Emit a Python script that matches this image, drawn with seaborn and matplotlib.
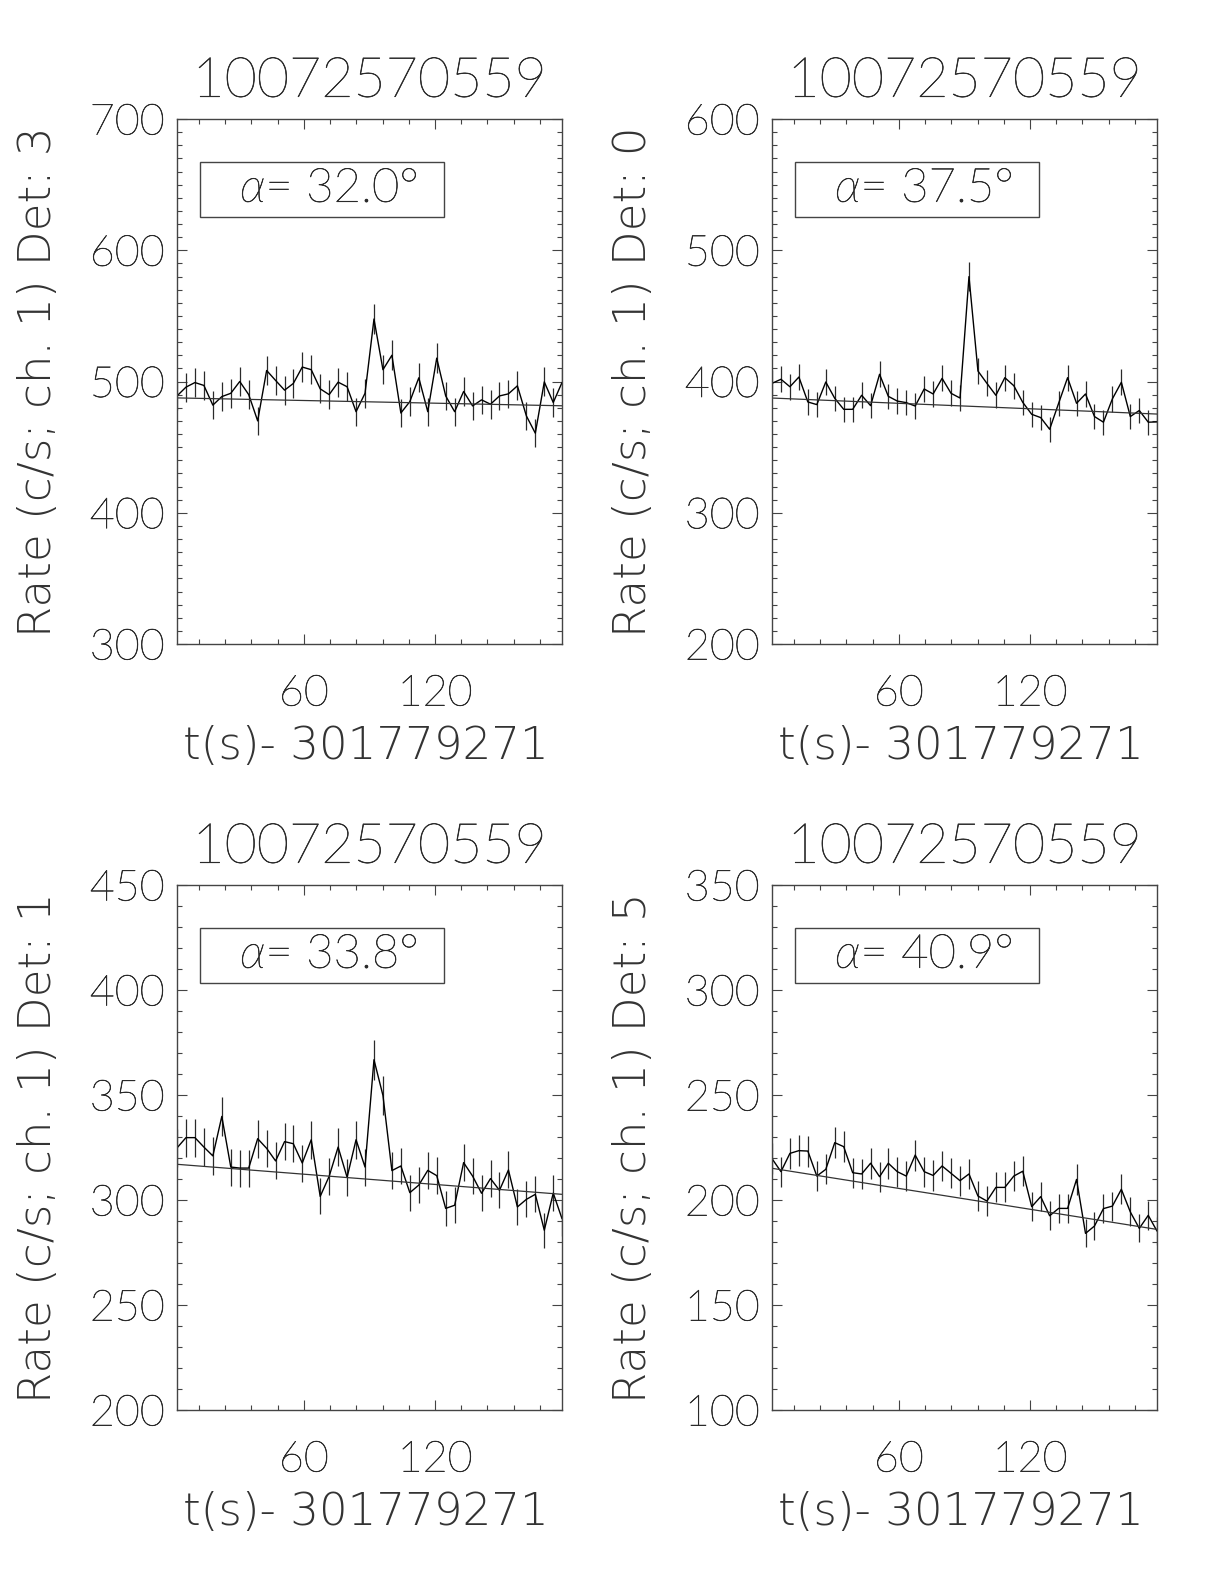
import numpy as np
import pandas as pd
import matplotlib
matplotlib.use("Agg")
import matplotlib.pyplot as plt
import matplotlib.patheffects as pe
import seaborn as sns
from matplotlib import font_manager as fm
from matplotlib.ticker import MultipleLocator, FixedLocator
from matplotlib.patches import Rectangle

sns.set_theme(style="ticks")
plt.rcParams["font.family"] = ["Lato", "DejaVu Sans"]
plt.rcParams["mathtext.fontset"] = "custom"
plt.rcParams["mathtext.it"] = "Lato:italic:weight=200"
plt.rcParams["mathtext.rm"] = "Lato:weight=200"
plt.rcParams["mathtext.fallback"] = "cm"

# ---- data ----
time_s = [2.0, 6.1, 10.2, 14.3, 18.4, 22.5, 26.6, 30.7, 34.8, 38.9, 43.0,
          47.1, 51.2, 55.2, 59.3, 63.4, 67.5, 71.6, 75.7, 79.8, 83.9, 88.0,
          92.1, 96.2, 100.3, 104.4, 108.5, 112.6, 116.7, 120.8, 124.9, 129.0,
          133.1, 137.2, 141.3, 145.4, 149.5, 153.6, 157.7, 161.8, 165.9, 170.0,
          174.1, 178.1]

rate_det3 = [489.0, 495.7, 499.2, 497.0, 482.0, 488.5, 491.0, 500.0, 490.0, 470.0,
             508.4, 500.8, 493.4, 498.5, 511.0, 509.0, 494.4, 490.0, 499.5, 496.0,
             477.0, 491.0, 547.6, 509.0, 520.0, 476.0, 484.7, 502.8, 477.0, 517.8,
             489.0, 477.0, 492.4, 481.4, 486.0, 482.7, 489.0, 490.6, 496.7, 473.8,
             460.6, 499.7, 484.0, 499.2]
err_det3 = [10.9, 11.0, 11.0, 11.0, 10.8, 10.9, 10.9, 11.0, 10.9, 10.7, 11.1, 11.1,
            11.0, 11.0, 11.2, 11.1, 11.0, 10.9, 11.0, 11.0, 10.8, 10.9, 11.6, 11.1,
            11.3, 10.8, 10.9, 11.1, 10.8, 11.2, 10.9, 10.8, 11.0, 10.8, 10.9, 10.9,
            10.9, 10.9, 11.0, 10.8, 10.6, 11.0, 10.9, 11.0]

rate_det0 = [398.6, 401.7, 396.0, 403.4, 384.4, 382.4, 399.6, 387.2, 378.8, 378.8,
             389.5, 381.6, 405.5, 388.7, 385.1, 383.9, 381.3, 394.3, 390.5, 402.4,
             391.0, 387.4, 479.9, 408.0, 398.6, 389.5, 402.9, 396.8, 384.1, 375.0,
             372.5, 363.6, 383.4, 402.9, 383.4, 390.5, 373.3, 369.0, 386.8, 399.4,
             373.3, 377.9, 369.0, 369.2]
err_det0 = [9.9, 9.9, 9.8, 9.9, 9.7, 9.7, 9.9, 9.7, 9.6, 9.6, 9.8, 9.7, 9.9, 9.7,
            9.7, 9.7, 9.6, 9.8, 9.8, 9.9, 9.8, 9.7, 10.8, 10.0, 9.9, 9.8, 9.9, 9.8,
            9.7, 9.6, 9.5, 9.4, 9.7, 9.9, 9.7, 9.8, 9.5, 9.5, 9.7, 9.9, 9.5, 9.6,
            9.5, 9.5]

rate_det1 = [324.8, 329.7, 329.7, 325.2, 321.0, 339.8, 315.7, 315.2, 315.2, 329.2,
             324.6, 318.6, 327.8, 326.8, 317.6, 328.7, 301.7, 311.3, 325.2, 310.8,
             328.7, 315.7, 366.8, 349.8, 314.0, 316.2, 303.5, 307.1, 314.1, 311.6,
             296.0, 297.5, 317.8, 311.4, 303.2, 310.2, 304.6, 314.3, 296.7, 300.3,
             302.7, 285.6, 303.3, 291.1]
err_det1 = [8.9, 9.0, 9.0, 8.9, 8.9, 9.1, 8.8, 8.8, 8.8, 9.0, 8.9, 8.8, 8.9, 8.9,
            8.8, 9.0, 8.6, 8.7, 8.9, 8.7, 9.0, 8.8, 9.5, 9.2, 8.8, 8.8, 8.6, 8.7,
            8.8, 8.7, 8.5, 8.5, 8.8, 8.7, 8.6, 8.7, 8.6, 8.8, 8.5, 8.6, 8.6, 8.4,
            8.6, 8.4]

rate_det5 = [219.7, 213.5, 222.2, 223.5, 223.3, 211.4, 214.6, 227.3, 225.4, 213.0,
             212.4, 217.5, 211.1, 217.5, 213.5, 211.4, 221.4, 213.5, 211.7, 216.2,
             212.7, 209.2, 212.4, 201.9, 199.5, 206.0, 206.0, 211.4, 213.7, 196.8,
             201.6, 192.5, 196.0, 196.0, 209.8, 184.1, 187.6, 195.9, 197.1, 205.1,
             194.3, 186.5, 192.7, 185.2]
err_det5 = [7.3, 7.2, 7.4, 7.4, 7.4, 7.2, 7.2, 7.4, 7.4, 7.2, 7.2, 7.3, 7.2, 7.3,
            7.2, 7.2, 7.4, 7.2, 7.2, 7.3, 7.2, 7.1, 7.2, 7.0, 7.0, 7.1, 7.1, 7.2,
            7.2, 6.9, 7.0, 6.9, 6.9, 6.9, 7.2, 6.7, 6.8, 6.9, 6.9, 7.1, 6.9, 6.7,
            6.9, 6.7]

# background fit: value at first and last time bin
fit_det3 = [487.5, 481.5]
fit_det0 = [387.4, 375.2]
fit_det1 = [317.0, 302.7]
fit_det5 = [215.1, 186.0]

burst_id = "10072570559"
detectors = ["3", "0", "1", "5"]
angles = ["32.0", "37.5", "33.8", "40.9"]
rates = [rate_det3, rate_det0, rate_det1, rate_det5]
errors = [err_det3, err_det0, err_det1, err_det5]
fits = [fit_det3, fit_det0, fit_det1, fit_det5]
y_limits = [(300, 700), (200, 600), (200, 450), (100, 350)]
y_major = [100, 100, 50, 50]
x_ticks = [60, 120]
t0_label = "301779271"


# ---- font for the wide axis labels (a light DejaVu face if one exists) ----
def _w(v):
    try:
        return int(v)
    except (TypeError, ValueError):
        return fm.weight_dict.get(v, 400)


lab_family, lab_weight, lab_color = "DejaVu Sans", 400, "#555555"
for f in fm.fontManager.ttflist:
    if (f.name.startswith("DejaVu Sans") and "Mono" not in f.name
            and "Condensed" not in f.name and f.style == "normal"
            and _w(f.weight) <= 300):
        lab_family, lab_weight, lab_color = f.name, _w(f.weight), "#333333"
        break

# ---- layout ----
W, H = 1224, 1584
fig = plt.figure(figsize=(W / 100, H / 100), dpi=100)
fig.patch.set_facecolor("white")
lefts = [177, 772, 177, 772]
tops = [119, 119, 885, 885]
aw, ah = 385, 525

txt_color = "#2a2a2a"
fw = 200
thin_fx = [pe.withStroke(linewidth=0.45, foreground=txt_color)]

for i in range(4):
    ax = fig.add_axes([lefts[i] / W, (H - tops[i] - ah) / H, aw / W, ah / H])
    ax.set_facecolor("white")
    df = pd.DataFrame({"t": time_s, "rate": rates[i], "err": errors[i]})
    lo = df["rate"] - df["err"]
    hi = df["rate"] + df["err"]
    ax.vlines(df["t"], lo, hi, color="#2a2a2a", lw=0.9)
    sns.lineplot(data=df, x="t", y="rate", ax=ax, sort=False, estimator=None,
                 color="black", lw=1.0)
    fdf = pd.DataFrame({"t": [time_s[0], time_s[-1]], "fit": fits[i]})
    sns.lineplot(data=fdf, x="t", y="fit", ax=ax, color="#333333", lw=0.9)

    ax.set_xlim(time_s[0], time_s[-1])
    ax.set_ylim(*y_limits[i])
    ax.xaxis.set_major_locator(FixedLocator(x_ticks))
    ax.xaxis.set_minor_locator(MultipleLocator(12))
    ax.yaxis.set_major_locator(MultipleLocator(y_major[i]))
    ax.yaxis.set_minor_locator(MultipleLocator(10))
    ax.tick_params(which="both", direction="in", top=True, right=True,
                   color="#444444", width=0.8)
    ax.tick_params(which="major", length=7.5)
    ax.tick_params(which="minor", length=3.5)
    ax.tick_params(axis="y", which="major", labelsize=31, pad=9,
                   labelcolor=txt_color)
    ax.tick_params(axis="x", which="major", labelsize=31, pad=22,
                   labelcolor=txt_color)
    for lab in ax.get_xticklabels() + ax.get_yticklabels():
        lab.set_fontweight(fw)
        lab.set_path_effects(thin_fx)
    for sp in ax.spines.values():
        sp.set_visible(True)
        sp.set_color("#444444")
        sp.set_linewidth(1.0)

    ax.set_title(burst_id, fontsize=40, pad=16, color=txt_color, fontweight=fw,
                 path_effects=thin_fx)
    ax.set_ylabel(f"Rate (c/s; ch. 1) Det: {detectors[i]}", fontsize=32.5,
                  color=lab_color, family=[lab_family], fontweight=lab_weight)
    ax.yaxis.set_label_coords(-0.305, 0.5)
    ax.set_xlabel(f"t(s)- {t0_label}", fontsize=32.5, color=lab_color,
                  family=[lab_family], fontweight=lab_weight)
    ax.xaxis.set_label_coords(0.49, -0.155)

    ax.add_patch(Rectangle((0.06, 0.813), 0.634, 0.105, transform=ax.transAxes,
                           fill=False, edgecolor="#444444", lw=1.0))
    ax.text(0.164, 0.866, r"$\alpha$= " + angles[i] + "°", transform=ax.transAxes,
            fontsize=34, color=txt_color, fontweight=fw, ha="left",
            va="center", path_effects=thin_fx)

fig.savefig("out.png", dpi=100, facecolor="white")
